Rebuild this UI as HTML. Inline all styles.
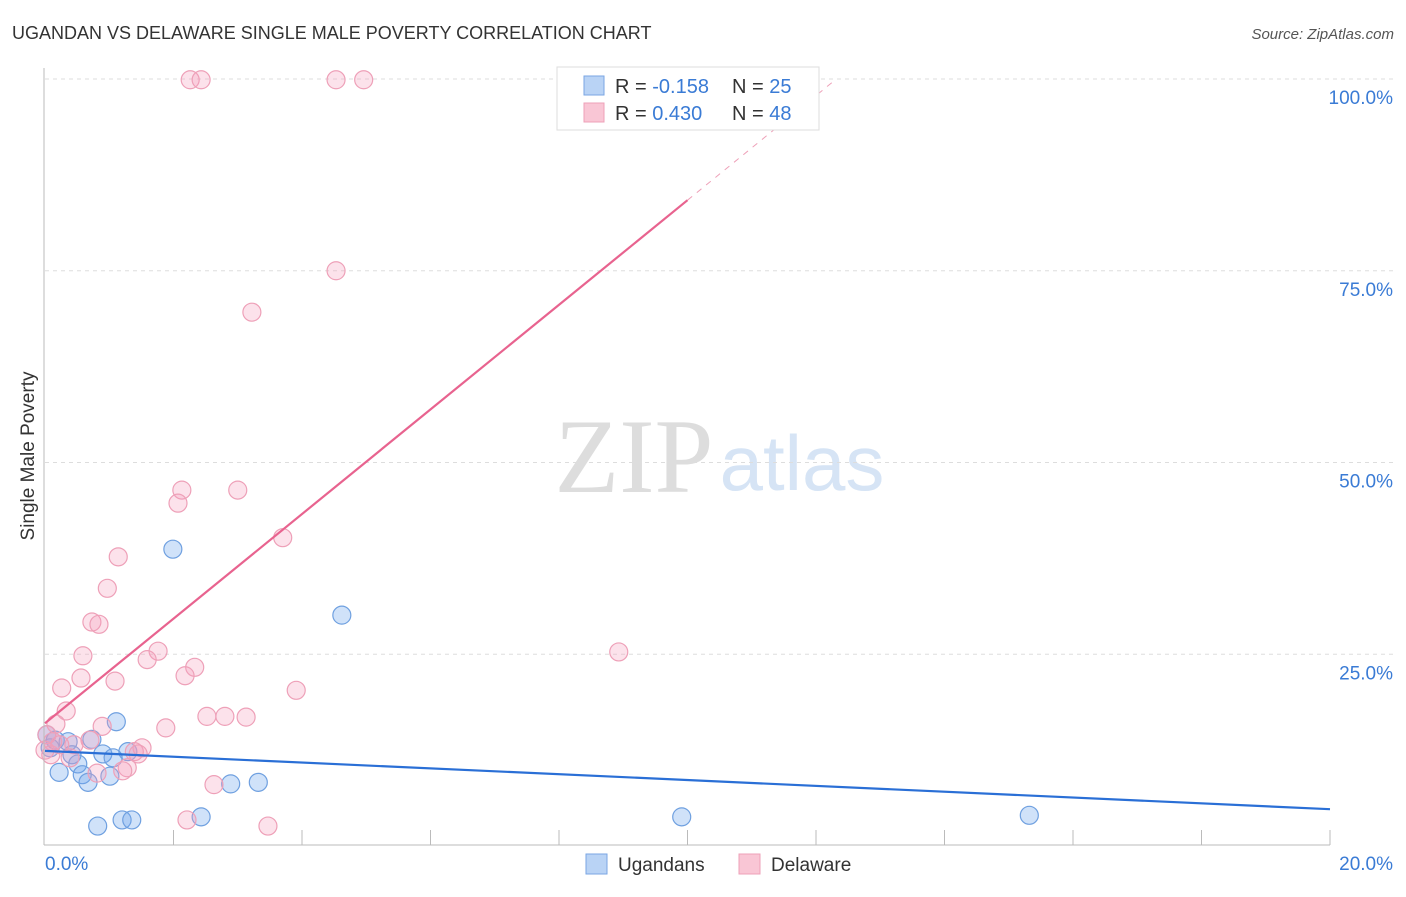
<!DOCTYPE html>
<html><head><meta charset="utf-8"><style>
body{margin:0;background:#fff;font-family:"Liberation Sans",sans-serif}
</style></head><body>
<svg width="1406" height="892" xmlns="http://www.w3.org/2000/svg" id="c">
<text x="12" y="39" font-size="18" fill="#333">UGANDAN VS DELAWARE SINGLE MALE POVERTY CORRELATION CHART</text>
<text x="1394" y="39" font-size="15" fill="#555" font-style="italic" text-anchor="end">Source: ZipAtlas.com</text>
<text x="34" y="456" font-size="19" fill="#333" text-anchor="middle" transform="rotate(-90 34 456)">Single Male Poverty</text>
<text x="634" y="492" font-size="106" fill="#ddd" font-family="Liberation Serif" text-anchor="middle">ZIP</text>
<text x="802" y="490" font-size="78" fill="#d6e4f5" text-anchor="middle">atlas</text>
<g id="grid"></g><g id="pts"></g><g id="lines"></g>
<line x1="44" y1="68" x2="44" y2="845" stroke="#bbb"/>
<line x1="44" y1="845" x2="1330" y2="845" stroke="#bbb"/>
<text x="45" y="870" font-size="19" fill="#3a7bd5">0.0%</text>
<text x="1393" y="870" font-size="19" fill="#3a7bd5" text-anchor="end">20.0%</text>
<g>
<rect x="557" y="67" width="262" height="63" fill="#fff" stroke="#ddd"/>
<rect x="584" y="76" width="20" height="19" fill="#b9d3f5" stroke="#7aa6e3"/>
<rect x="584" y="103" width="20" height="19" fill="#f9c6d5" stroke="#eea0b8"/>
<text x="615" y="93" font-size="20" fill="#333">R = <tspan fill="#3a7bd5">-0.158</tspan></text>
<text x="732" y="93" font-size="20" fill="#333">N = <tspan fill="#3a7bd5">25</tspan></text>
<text x="615" y="120" font-size="20" fill="#333">R = <tspan fill="#3a7bd5"> 0.430</tspan></text>
<text x="732" y="120" font-size="20" fill="#333">N = <tspan fill="#3a7bd5">48</tspan></text>
</g>
<g><rect x="586" y="854" width="21" height="20" fill="#b9d3f5" stroke="#7aa6e3"/><text x="618" y="871" font-size="19" fill="#333">Ugandans</text></g>
<g><rect x="739" y="854" width="21" height="20" fill="#f9c6d5" stroke="#eea0b8"/><text x="771" y="871" font-size="19" fill="#333">Delaware</text></g>
</svg>
<script>
const yTicks=[25,50,75,100];
const yTickLabels=["25.0%","50.0%","75.0%","100.0%"];
const blueX=[1.99,4.62,1.11,0.03,0.16,0.36,0.73,0.42,0.90,1.29,1.06,0.22,0.51,0.58,0.67,1.01,2.89,3.32,0.82,1.20,1.35,2.43,9.91,15.32,0.08];
const blueY=[38.7,30.1,16.2,14.5,13.8,13.6,13.9,11.9,12.0,12.3,11.5,9.6,10.7,9.3,8.3,9.1,8.1,8.3,2.6,3.4,3.4,3.8,3.8,4.0,12.8];
const pinkX=[2.26,2.43,4.53,4.96,4.53,3.22,2.13,3.00,2.07,3.70,1.14,0.97,0.73,0.84,0.59,1.76,8.93,1.59,2.33,0.56,2.18,1.09,0.26,3.91,0.33,0.17,2.52,2.80,3.13,1.88,0.89,0.03,0.12,0.70,0.45,1.51,1.39,1.28,1.21,0.81,0.39,0.0,2.63,2.21,3.47,0.09,1.45,0.23];
const pinkY=[99.9,99.9,99.9,99.9,75.0,69.6,46.4,46.4,44.7,40.2,37.7,33.6,29.2,28.9,24.8,25.4,25.3,24.3,23.3,21.9,22.2,21.5,20.6,20.3,17.6,15.9,16.9,16.9,16.8,15.4,15.6,14.5,13.6,13.8,13.2,12.8,12.3,10.2,9.8,9.5,11.5,12.5,8.0,3.4,2.6,11.9,12.0,13.2];
const blueTrend=[12.4,4.8];
const pinkTrend=[16.0,6.82];
const NS="http://www.w3.org/2000/svg";
const X=v=>45+v/20*1285, Y=v=>846-v/100*767;
function mk(t,a,p){const e=document.createElementNS(NS,t);for(const k in a)e.setAttribute(k,a[k]);document.getElementById(p).appendChild(e);return e;}
yTicks.forEach((t,i)=>{
 const l=mk('line',{x1:45,x2:1395,y1:Y(t),y2:Y(t),stroke:'#ddd','stroke-dasharray':'4,4'},'grid');
 
 
 const tx=mk('text',{x:1393,y:Y(t)+25,'font-size':19,fill:'#3a7bd5','text-anchor':'end'},'grid');
 tx.textContent=yTickLabels[i];
 
 
});
for(let i=1;i<=10;i++){const l=mk('line',{x1:X(i*2),x2:X(i*2),y1:830,y2:845,stroke:'#bbb'},'grid');
 
 }
blueX.forEach((x,i)=>{const c=mk('circle',{cx:X(x),cy:Y(blueY[i]),r:9,fill:'rgba(110,165,235,0.32)',stroke:'#6fa0e0','stroke-width':1.2},'pts');
 
 });
pinkX.forEach((x,i)=>{const c=mk('circle',{cx:X(x),cy:Y(pinkY[i]),r:9,fill:'rgba(245,160,190,0.3)',stroke:'#eea0b8','stroke-width':1.2},'pts');
 
 });
const bl=mk('line',{x1:X(0),y1:Y(blueTrend[0]),x2:X(20),y2:Y(blueTrend[1]),stroke:'#2a6fd6','stroke-width':2.2},'lines');


const pe=10, pd=(100-pinkTrend[0])/pinkTrend[1];
const pl=mk('line',{x1:X(0),y1:Y(pinkTrend[0]),x2:X(pe),y2:Y(pinkTrend[0]+pinkTrend[1]*pe),stroke:'#e8638f','stroke-width':2.2},'lines');


const pdl=mk('line',{x1:X(pe),y1:Y(pinkTrend[0]+pinkTrend[1]*pe),x2:X(pd),y2:Y(100),stroke:'#eea0b8','stroke-width':1,'stroke-dasharray':'6,6'},'lines');


</script>
</body></html>
